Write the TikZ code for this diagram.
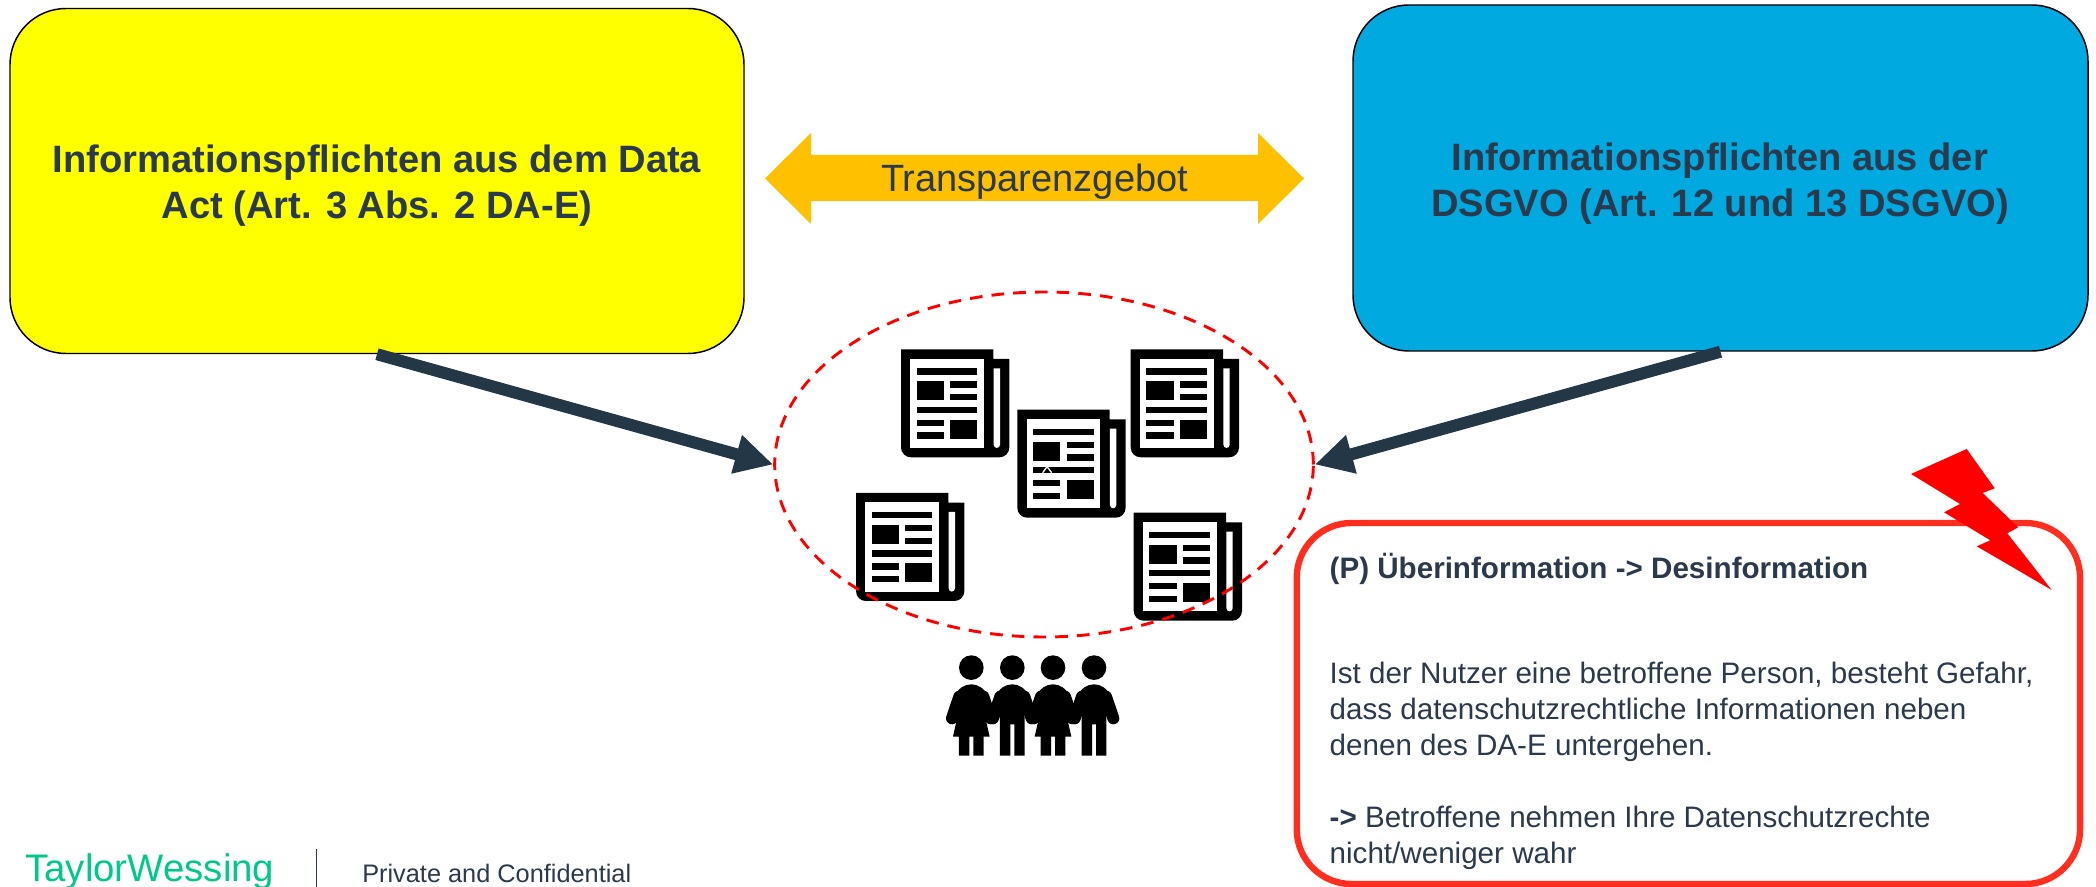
\documentclass[tikz,border=0pt]{standalone}
\usepackage{fontspec}
\setmainfont{Liberation Sans}
\usetikzlibrary{arrows.meta,shapes.geometric}
\definecolor{navy}{HTML}{2A3A4C}
\definecolor{arrownavy}{HTML}{243746}
\definecolor{boxblue}{HTML}{00A9E0}
\definecolor{boxyellow}{HTML}{FFFF00}
\definecolor{twgreen}{HTML}{00C88A}
\definecolor{redbox}{HTML}{FF2E1F}
\definecolor{amber}{HTML}{FFC000}
\tikzset{
  mainbox/.style={draw=black,line width=1.1pt,rounded corners=42pt,inner sep=0pt},
  headtext/.style={text=navy,align=center,inner sep=0pt,font=\fontsize{28.6pt}{34.5pt}\selectfont\bfseries},
  bodytext/.style={text=navy,align=left,inner sep=0pt,font=\fontsize{22.2pt}{27pt}\selectfont},
  thickarrow/.style={draw=arrownavy,line width=9pt,-{Triangle[length=28.5pt,width=28pt]},shorten >=0pt},
  icon/.style={x=0.25pt,y=-0.25pt},
  newspaper/.pic={
    \begin{scope}[icon]
    \fill[black] (0,0) -- (277,0) -- (277,29) -- (325,29) -- (325,294)
      .. controls (325,311) and (312,324) .. (295,324) -- (30,324)
      .. controls (13,324) and (0,311) .. (0,294) -- cycle;
    \fill[white] (28,28) rectangle (249,296);
    \fill[white] (278,57) -- (297,57) -- (297,286)
      .. controls (297,299) and (278,299) .. (278,286) -- cycle;
    \fill[black] (47,57) rectangle (229,76);
    \fill[black] (47,96) rectangle (129,153);
    \fill[black] (148,96) rectangle (229,115);
    \fill[black] (148,134) rectangle (229,153);
    \fill[black] (47,172) rectangle (229,191);
    \fill[black] (47,211) rectangle (129,230);
    \fill[black] (47,249) rectangle (129,268);
    \fill[black] (148,211) rectangle (229,268);
    \end{scope}
  },
  pics/man/.style={code={
    \begin{scope}[icon]
    \fill[black] (0,37) circle[radius=37];
    \draw[black,line width=9pt,line cap=round] (36,124) -- (58,189);
    \draw[black,line width=9pt,line cap=round] (-36,124) -- (-58,189);
    \fill[black] (-50,125) .. controls (-42,100) and (-20,87) .. (0,87)
      .. controls (20,87) and (42,100) .. (50,125) -- (37,164) -- (37,301) -- (6,301) -- (6,207)
      -- (-6,207) -- (-6,301) -- (-37,301) -- (-37,164) -- cycle;
    \end{scope}
  }},
  pics/woman/.style={code={
    \begin{scope}[icon]
    \fill[black] (0,37) circle[radius=37];
    \draw[black,line width=9pt,line cap=round] (36,124) -- (58,189);
    \draw[black,line width=9pt,line cap=round] (-36,124) -- (-58,189);
    \fill[black] (-50,125) .. controls (-42,100) and (-20,87) .. (0,87)
      .. controls (20,87) and (42,100) .. (50,125) -- (37,164) -- (55,244) -- (37,244) -- (37,301)
      -- (6,301) -- (6,244) -- (-6,244) -- (-6,301) -- (-37,301) -- (-37,244) -- (-55,244)
      -- (-37,164) -- cycle;
    \end{scope}
  }},
}
\begin{document}
\begin{tikzpicture}[x=0.75pt,y=-0.75pt]
\useasboundingbox (0,0) rectangle (2096,887);

% main boxes
\node[mainbox,fill=boxyellow,minimum width=550.5pt,minimum height=258.75pt] (ybox) at (377,181) {};
\node[mainbox,fill=boxblue,minimum width=551.25pt,minimum height=259.5pt] (bbox) at (1720.5,178) {};
\node[headtext] (ytext) at (377,185.5) {Informationspflichten aus dem Data\\Act (Art. 3 Abs. 2 DA-E)};
\node[headtext] (btext) at (1720,183.5) {Informationspflichten aus der\\DSGVO (Art. 12 und 13 DSGVO)};

% double arrow
\fill[amber] (765,178.5) -- (811,133) -- (811,155) -- (1258,155) -- (1258,133) -- (1304,178.5)
  -- (1258,224) -- (1258,201) -- (811,201) -- (811,224) -- cycle;
\node[text=navy,anchor=base,inner sep=0pt,font=\fontsize{28.5pt}{33pt}\selectfont] (tg) at (1034.5,191.7) {Transparenzgebot};

% newspapers
\pic at (901,349.3) {newspaper};
\pic at (1017.3,409.7) {newspaper};
\pic at (1130.7,349.3) {newspaper};
\pic at (856,493) {newspaper};
\pic at (1133.7,512.7) {newspaper};
\draw[white,line width=1pt] (1042.7,472.7) -- (1047,466.7) -- (1051.7,472.7);

% people
\pic at (971.3,655.3) {woman};
\pic at (1012.3,655.3) {man};
\pic at (1053,655.3) {woman};
\pic at (1094,655.3) {man};

% ellipse
\node[draw=red,line width=2.2pt,dash pattern=on 9.5pt off 6.8pt,ellipse,minimum width=404pt,minimum height=258.75pt,inner sep=0pt] (cloud) at (1044,464.5) {};

% connectors
\draw[thickarrow] (ybox.south) -- (cloud.west);
\draw[thickarrow] (bbox.south) -- (cloud.east);

% red box
\node[draw=redbox,line width=4.8pt,rounded corners=41pt,minimum width=587.5pt,minimum height=270.75pt,inner sep=0pt] (rbox) at (1688.4,703.5) {};
\fill[red] (1966.7,449) -- (1994.7,488.3) -- (1982.7,493) -- (2018.3,527.3) -- (2007.3,533.3)
  -- (2051.7,590) -- (1976.7,546.3) -- (1990.3,540.3) -- (1944,512.3) -- (1960,504) -- (1911,474) -- cycle;
\node[bodytext,anchor=base west] (rhead) at (1329.4,578.5) {\textbf{(P) Überinformation -> Desinformation}};
\node[bodytext,anchor=north west] (rbody) at (1329.4,662) {Ist der Nutzer eine betroffene Person, besteht Gefahr,\\dass datenschutzrechtliche Informationen neben\\denen des DA-E untergehen.\\[27pt]\textbf{->} Betroffene nehmen Ihre Datenschutzrechte\\nicht/weniger wahr};

% footer
\node[anchor=base west,inner sep=0pt,text=twgreen,font=\fontsize{28.8pt}{33pt}\selectfont] (logo) at (25,881) {TaylorWessing};
\coordinate (sepa) at (316.5,849);
\coordinate (sepb) at (316.5,887);
\draw[navy,line width=0.8pt] (sepa) -- (sepb);
\node[anchor=base west,inner sep=0pt,text=navy,font=\fontsize{19pt}{23pt}\selectfont] (conf) at (362,882) {Private and Confidential};
\end{tikzpicture}
\end{document}
